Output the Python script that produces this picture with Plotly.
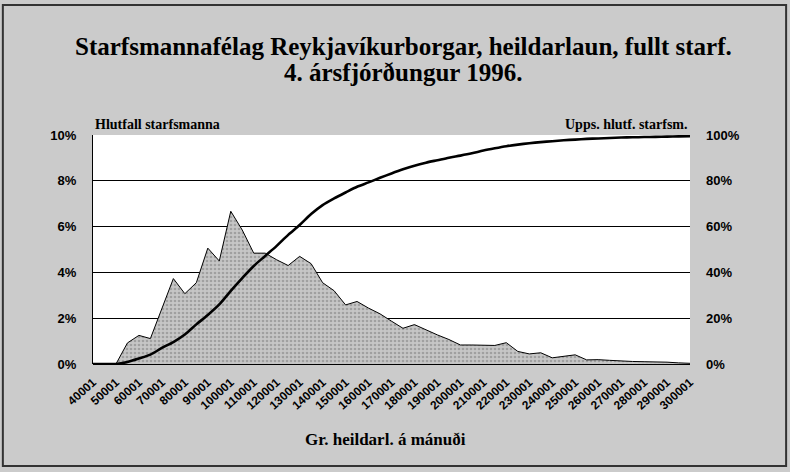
import plotly.graph_objects as go

# Salary bins (lower bound of each 5000 kr. band)
salary_bins = [40001, 45001, 50001, 55001, 60001, 65001, 70001, 75001, 80001, 85001,
               90001, 95001, 100001, 105001, 110001, 115001, 120001, 125001, 130001, 135001,
               140001, 145001, 150001, 155001, 160001, 165001, 170001, 175001, 180001, 185001,
               190001, 195001, 200001, 205001, 210001, 215001, 220001, 225001, 230001, 235001,
               240001, 245001, 250001, 255001, 260001, 265001, 270001, 275001, 280001, 285001,
               290001, 295001, 300001]

# Share of employees in each band (%)
share_pct = [0.0, 0.0, 0.0, 0.92, 1.25, 1.11, 2.4, 3.73, 3.07, 3.55,
             5.06, 4.5, 6.67, 5.85, 4.84, 4.84, 4.55, 4.3, 4.7, 4.38,
             3.55, 3.2, 2.58, 2.73, 2.44, 2.19, 1.87, 1.56, 1.72, 1.49,
             1.27, 1.07, 0.83, 0.83, 0.82, 0.81, 0.93, 0.55, 0.44, 0.49,
             0.27, 0.33, 0.4, 0.18, 0.19, 0.16, 0.12, 0.11, 0.1, 0.1,
             0.08, 0.05, 0.03]

# Cumulative share of employees (%)
cumulative_pct = [0.0, 0.0, 0.0, 0.9, 2.4, 4.1, 7.0, 9.6, 12.9, 17.3,
                  21.4, 26.0, 31.9, 37.5, 42.8, 47.2, 51.6, 56.4, 60.7, 65.5,
                  69.4, 72.3, 74.9, 77.4, 79.3, 81.3, 83.2, 85.0, 86.6, 87.9,
                  89.0, 90.1, 91.0, 92.0, 93.2, 94.2, 95.1, 95.8, 96.4, 96.9,
                  97.3, 97.7, 98.0, 98.3, 98.5, 98.7, 98.9, 99.0, 99.1, 99.2,
                  99.3, 99.4, 99.5]

tick_values = [40001, 50001, 60001, 70001, 80001, 90001, 100001, 110001, 120001, 130001,
               140001, 150001, 160001, 170001, 180001, 190001, 200001, 210001, 220001, 230001,
               240001, 250001, 260001, 270001, 280001, 290001, 300001]
tick_labels = [str(v) for v in tick_values]

left_ticks = [0, 2, 4, 6, 8, 10]
left_tick_labels = ["0%", "2%", "4%", "6%", "8%", "10%"]
right_ticks = [0, 20, 40, 60, 80, 100]
right_tick_labels = ["0%", "20%", "40%", "60%", "80%", "100%"]

title_line1 = "Starfsmannafélag Reykjavíkurborgar, heildarlaun, fullt starf."
title_line2 = "4. ársfjórðungur 1996."
left_axis_title = "Hlutfall starfsmanna"
right_axis_title = "Upps. hlutf. starfsm."
x_axis_title = "Gr. heildarl. á mánuði"

SERIF = "Liberation Serif, Times New Roman, serif"
SANS = "Liberation Sans, Arial, sans-serif"

fig = go.Figure()

fig.add_trace(go.Scatter(
    x=salary_bins, y=share_pct, mode="lines",
    line=dict(color="black", width=1),
    fill="tozeroy",
    fillcolor="#b4b4b4",
    fillpattern=dict(shape=".", bgcolor="#c6c6c6", fgcolor="#7a7a7a", size=4, solidity=0.35),
    hoverinfo="skip", showlegend=False,
))

fig.add_trace(go.Scatter(
    x=salary_bins, y=cumulative_pct, mode="lines", yaxis="y2",
    line=dict(color="black", width=2.6, shape="spline", smoothing=0.8),
    showlegend=False,
))

fig.update_layout(
    width=790, height=472,
    margin=dict(l=93, r=100, t=135, b=108),
    paper_bgcolor="#cbcbcb",
    plot_bgcolor="white",
    xaxis=dict(
        range=[40001, 300001],
        tickvals=tick_values, ticktext=tick_labels, tickangle=-42,
        tickfont=dict(family=SANS, size=12, color="black", weight="bold"),
        showgrid=False, zeroline=False, showline=False, ticks="",
        ticklabelstandoff=8,
    ),
    yaxis=dict(
        range=[0, 10], tickvals=left_ticks, ticktext=left_tick_labels,
        tickfont=dict(family=SANS, size=13, color="black", weight="bold"),
        showgrid=True, gridcolor="black", gridwidth=1,
        zeroline=True, zerolinecolor="black", zerolinewidth=1.2,
        showline=True, linecolor="black", linewidth=1,
        ticks="", ticklabelstandoff=13,
    ),
    yaxis2=dict(
        range=[0, 100], tickvals=right_ticks, ticktext=right_tick_labels,
        overlaying="y", side="right",
        tickfont=dict(family=SANS, size=13, color="black", weight="bold"),
        showgrid=False, zeroline=False, showline=False, ticks="",
        ticklabelstandoff=15,
    ),
    annotations=[
        dict(text=title_line1, xref="paper", yref="paper", x=0.52, y=1.3886,
             xanchor="center", yanchor="middle", showarrow=False,
             font=dict(family=SERIF, size=25, color="black", weight="bold")),
        dict(text=title_line2, xref="paper", yref="paper", x=0.52, y=1.275,
             xanchor="center", yanchor="middle", showarrow=False,
             font=dict(family=SERIF, size=25, color="black", weight="bold")),
        dict(text=left_axis_title, xref="paper", yref="paper", x=0.0, y=1.0,
             xanchor="left", yanchor="bottom", yshift=1, showarrow=False,
             font=dict(family=SERIF, size=14, color="black", weight="bold")),
        dict(text=right_axis_title, xref="paper", yref="paper", x=1.0, y=1.0,
             xanchor="right", yanchor="bottom", yshift=1, showarrow=False,
             font=dict(family=SERIF, size=14, color="black", weight="bold")),
        dict(text=x_axis_title, xref="paper", yref="paper", x=0.49, y=-0.33,
             xanchor="center", yanchor="middle", showarrow=False,
             font=dict(family=SERIF, size=17, color="black", weight="bold")),
    ],
    shapes=[
        dict(type="rect", xref="paper", yref="paper",
             x0=-0.151, x1=1.161, y0=-0.445, y1=1.568,
             line=dict(color="#333333", width=2), fillcolor="rgba(0,0,0,0)", layer="above"),
    ],
)

fig.write_html("out.html", config={"displayModeBar": False},
               post_script="document.body.style.margin='0';")
